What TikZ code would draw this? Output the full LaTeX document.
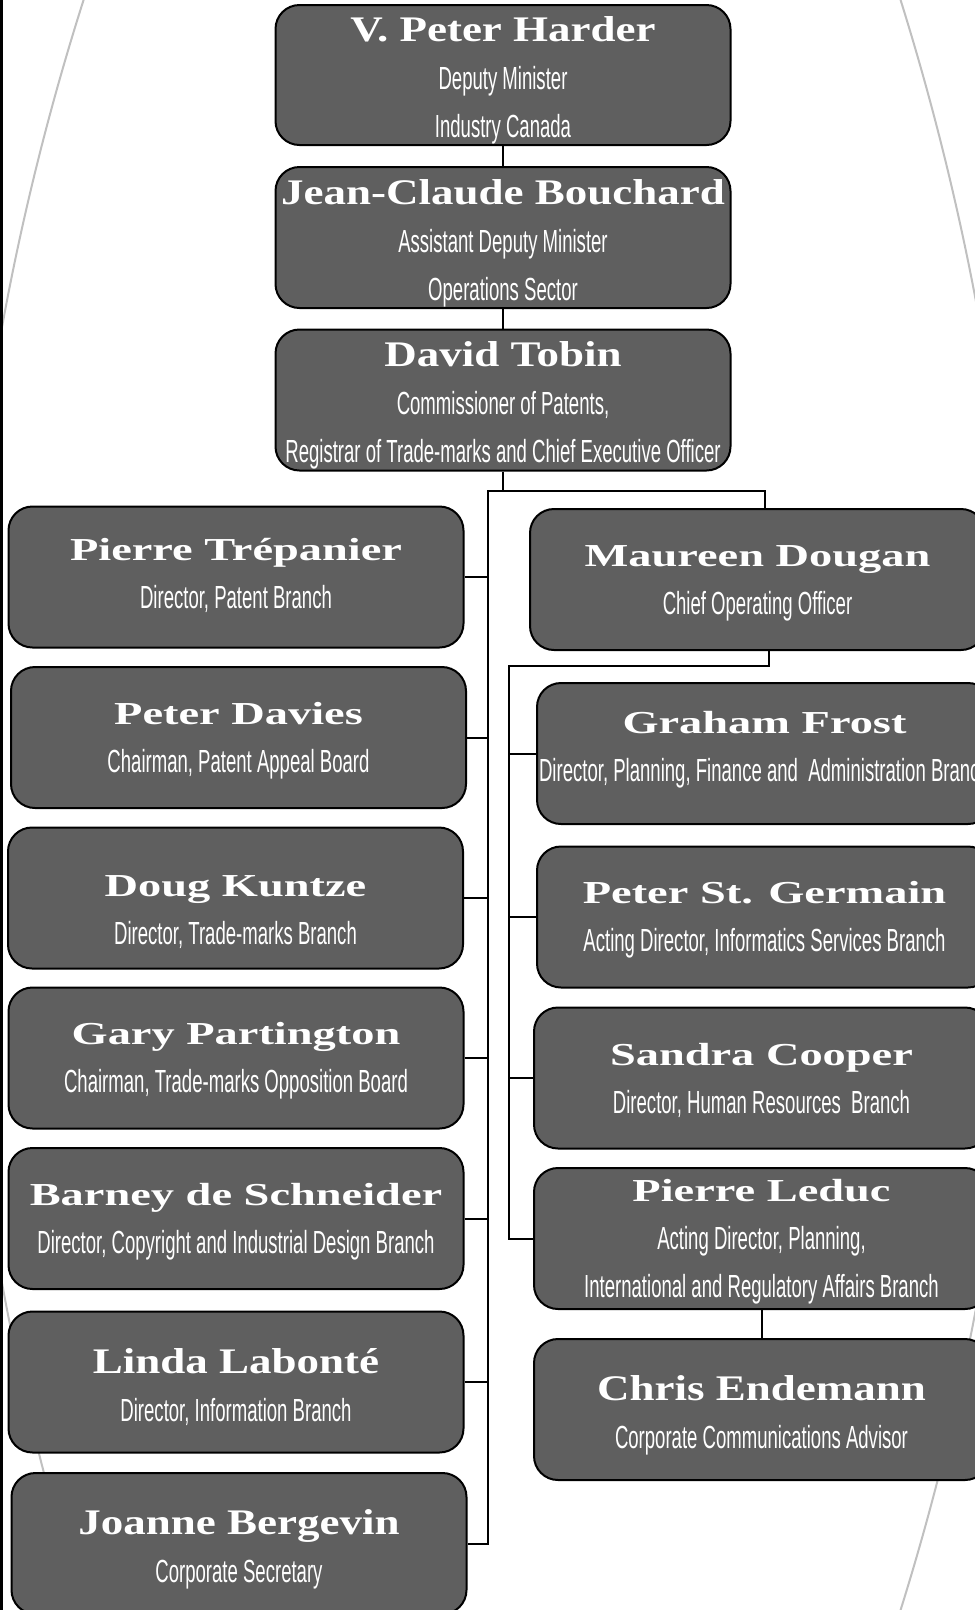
\documentclass[tikz,border=0pt]{standalone}
\usepackage{fontspec}
\newfontfamily\widefam{Liberation Serif}[FakeStretch=1.45]
\newfontfamily\tallfam{Liberation Serif}[FakeStretch=1.25]
\newfontfamily\subfam{Liberation Sans}[FakeStretch=0.58]
\newcommand\wname[2][28pt]{{\widefam\bfseries\fontsize{32}{48}\selectfont\rule{0pt}{#1}#2}}
\newcommand\tname[1]{{\tallfam\bfseries\fontsize{36}{48}\selectfont\rule{0pt}{36pt}#1}}
\newcommand\lastl[2][6pt]{#2\rule[-#1]{0pt}{#1}}
\definecolor{postgray}{RGB}{95,95,95}
\definecolor{arcgray}{RGB}{192,192,192}
\begin{document}
\begin{tikzpicture}[x=1pt,y=-1pt,
  post/.style={draw=black,line width=2pt,fill=postgray,rounded corners=24pt,
    minimum width=455pt,minimum height=141pt,inner sep=0pt,text=white,
    align=center,font=\subfam\fontsize{32}{48}\selectfont},
  link/.style={line width=2pt}]
\useasboundingbox (0,0) rectangle (975,1610);
\begin{scope}
\clip (0,0) rectangle (975,1610);
\draw[arcgray,line width=2pt] (2607,805) circle[radius=2648pt] (-1669,805) circle[radius=2692pt];
\end{scope}
\draw[line width=3pt] (1.5,0) -- (1.5,1610);

\node[post,minimum height=140pt] (harder) at (503,75) {\tname{V. Peter Harder}\\Deputy Minister\\\lastl{Industry Canada}};
\node[post] (bouchard) at (503,237.5) {\tname{Jean-Claude Bouchard}\\Assistant Deputy Minister\\\lastl{Operations Sector}};
\node[post] (tobin) at (503,400) {\tname{David Tobin}\\Commissioner of Patents,\\\lastl{Registrar of Trade-marks and Chief Executive Officer}};

\node[post] (trep) at (236,577) {\wname{Pierre Trépanier}\\\lastl[13pt]{Director, Patent Branch}};
\node[post] (davies) at (238.5,737.5) {\wname{Peter Davies}\\\lastl{Chairman, Patent Appeal Board}};
\node[post] (kuntze) at (235.5,898) {\wname[50pt]{Doug Kuntze}\\\lastl{Director, Trade-marks Branch}};
\node[post] (parting) at (236,1058) {\wname{Gary Partington}\\\lastl{Chairman, Trade-marks Opposition Board}};
\node[post] (schneider) at (236,1218.5) {\wname{Barney de Schneider}\\\lastl{Director, Copyright and Industrial Design Branch}};
\node[post] (labonte) at (236,1382) {\tname{Linda Labonté}\\\lastl{Director, Information Branch}};
\node[post] (bergevin) at (239,1543.5) {\tname{Joanne Bergevin}\\\lastl{Corporate Secretary}};

\node[post] (dougan) at (757.5,579.5) {\wname{Maureen Dougan}\\\lastl{Chief Operating Officer}};
\node[post] (frost) at (764.5,753.5) {\wname{Graham Frost}\\\lastl[20pt]{Director, Planning, Finance and~ Administration Branch}};
\node[post] (germain) at (764.5,917) {\wname{Peter St. Germain}\\\lastl{Acting Director, Informatics Services Branch}};
\node[post] (cooper) at (761.5,1078) {\wname{Sandra Cooper}\\\lastl{Director, Human Resources~ Branch}};
\node[post] (leduc) at (761.5,1238.5) {\wname{Pierre Leduc}\\Acting Director, Planning,\\\lastl{International and Regulatory Affairs Branch}};
\node[post] (endemann) at (761.5,1409.5) {\tname{Chris Endemann}\\\lastl{Corporate Communications Advisor}};

\coordinate (lbar) at (488,491);
\coordinate (rbar) at (765,491);
\coordinate (dbar) at (769,666);
\coordinate (sbar) at (509,666);
\draw[link] (harder)--(bouchard) (bouchard)--(tobin) (tobin)--(tobin.south|-lbar)
  (rbar|-dougan.north)--(rbar)--(lbar)--(lbar|-bergevin.east)--(bergevin.east)
  (dougan.south-|dbar)--(dbar)--(sbar)--(sbar|-leduc.west)--(leduc.west)
  (leduc)--(endemann);
\foreach \p in {trep,davies,kuntze,parting,schneider,labonte}
  \draw[link] (\p.east)--(\p.east-|lbar);
\foreach \p in {frost,germain,cooper}
  \draw[link] (\p.west)--(\p.west-|sbar);
\end{tikzpicture}
\end{document}
